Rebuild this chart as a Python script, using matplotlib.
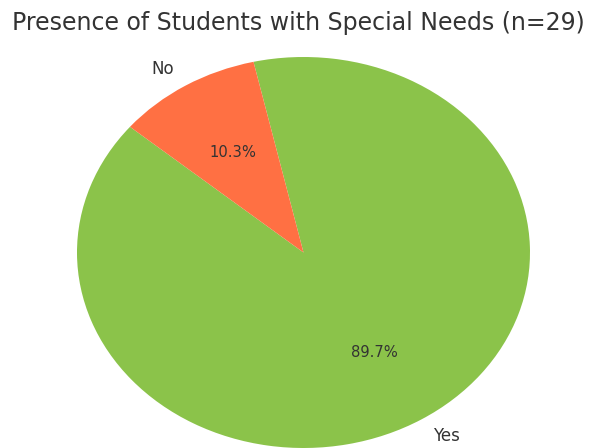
import matplotlib
matplotlib.use("Agg")
import matplotlib.pyplot as plt

labels = ["Yes", "No"]
counts = [26, 3]
colors = ["#8BC34A", "#FF7043"]
title = "Presence of Students with Special Needs (n=29)"

fig = plt.figure(figsize=(5.97, 4.48), dpi=100)
ax = fig.add_axes([77/597, 1 - 448/448, 453/597, 391/448])
wedges, texts, autotexts = ax.pie(
    counts, labels=labels, colors=colors, autopct="%1.1f%%",
    startangle=140, textprops={"color": "#333333", "fontsize": 12},
)
for t in autotexts:
    t.set_fontsize(10.6)
ax.set_aspect("auto")
ax.set_xlim(-1, 1)
ax.set_ylim(-1, 1)
for t in texts + autotexts:
    t.set_clip_on(False)
fig.text(0.5, 1 - 23/448, title, ha="center", va="center",
         fontsize=17, color="#333333")
fig.savefig("out.png", dpi=100)
